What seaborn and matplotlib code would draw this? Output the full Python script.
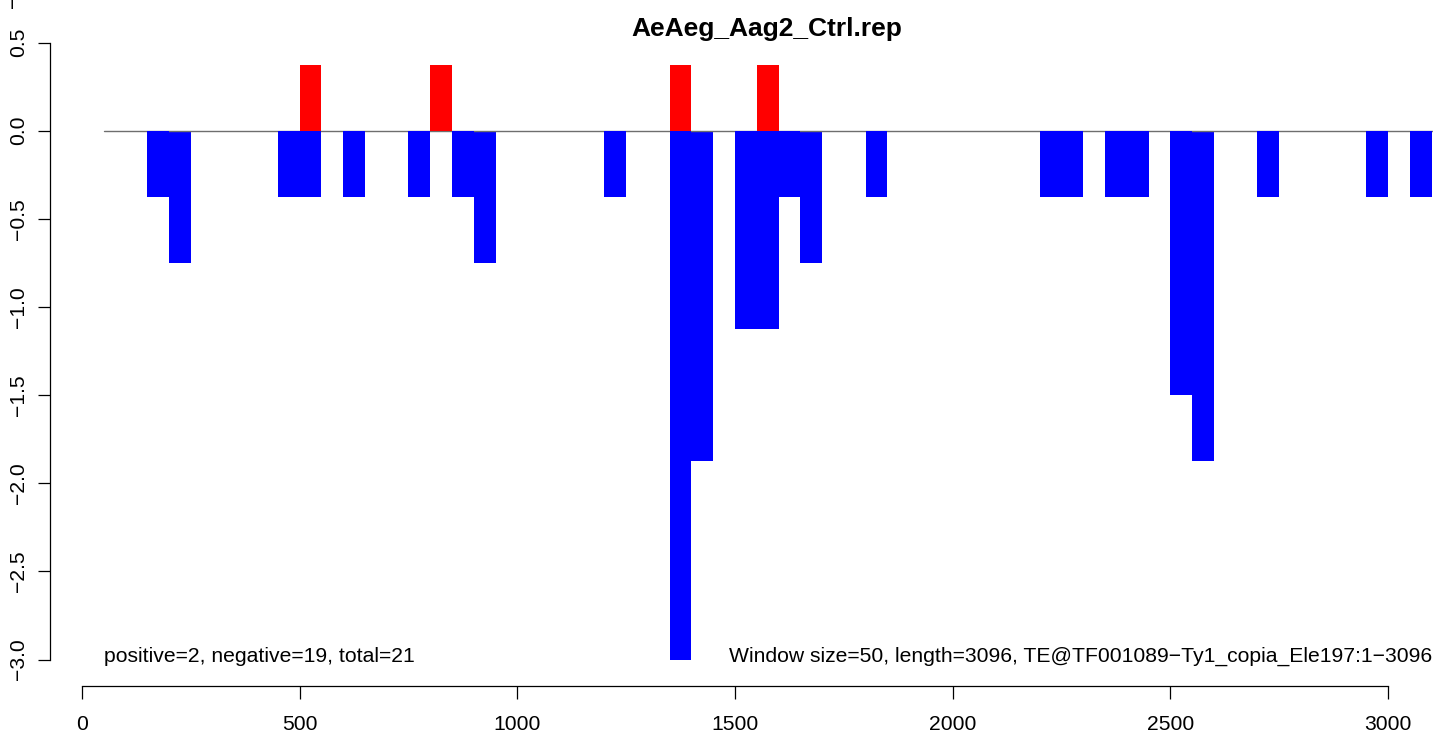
import numpy as np
import pandas as pd
import matplotlib
matplotlib.use("Agg")
import matplotlib.pyplot as plt
import seaborn as sns

# ---- data ----
title = "AeAeg_Aag2_Ctrl.rep"
window = 50
neg_starts = [150, 200, 450, 500, 600, 750, 850, 900, 1200, 1350, 1400, 1500, 1550,
              1600, 1650, 1800, 2200, 2250, 2350, 2400, 2500, 2550, 2700, 2950, 3050]
neg_values = [-0.375, -0.75, -0.375, -0.375, -0.375, -0.375, -0.375, -0.75, -0.375,
              -3.0, -1.875, -1.125, -1.125, -0.375, -0.75, -0.375, -0.375, -0.375,
              -0.375, -0.375, -1.5, -1.875, -0.375, -0.375, -0.375]
pos_starts = [500, 800, 1350, 1550]
pos_values = [0.375, 0.375, 0.375, 0.375]
under_line_starts = [200, 900, 1400, 1650, 2550]   # windows where baseline shows on top
baseline_range = [50, 3200]
x_ticks = [0, 500, 1000, 1500, 2000, 2500, 3000]
y_ticks = [0.5, 0.0, -0.5, -1.0, -1.5, -2.0, -2.5, -3.0]
left_note = "positive=2, negative=19, total=21"
right_note = "Window size=50, length=3096, TE@TF001089\u2212Ty1_copia_Ele197:1\u22123096"

df = pd.DataFrame({
    "center": np.array(neg_starts + pos_starts, dtype=float) + window / 2,
    "value": neg_values + pos_values,
    "sign": ["neg"] * len(neg_starts) + ["pos"] * len(pos_starts),
})

sns.set_style("ticks")
plt.rcParams["font.family"] = ["Liberation Sans", "DejaVu Sans"]
plt.rcParams["text.color"] = "black"
plt.rcParams["axes.labelcolor"] = "black"
FS = 15.2

W, H = 1433, 733
fig = plt.figure(figsize=(W / 100, H / 100), dpi=100)
ax_left, ax_bottom_px = 50, 685.7
ax = fig.add_axes([ax_left / W, (H - ax_bottom_px) / H, (W - ax_left) / W, ax_bottom_px / H])

sns.barplot(data=df, x="center", y="value", hue="sign",
            palette={"neg": "#0000FF", "pos": "#FF0000"},
            native_scale=True, dodge=False, width=1, saturation=1,
            errorbar=None, linewidth=0, legend=False, orient="x", ax=ax)

for p in ax.patches:
    start = p.get_x() + p.get_width() / 2 - window / 2
    if any(abs(start - s) < 1e-6 for s in under_line_starts):
        p.set_zorder(1.5)
    else:
        p.set_zorder(3)

ax.plot(baseline_range, [0, 0], color="#6e6e6e", lw=1.0, zorder=2, clip_on=True)

ax.set_xlim(-73.5, 3103.4)
ax.set_ylim(-3.148, 0.7414)
ax.set_xlabel("")
ax.set_ylabel("")

for s in ["top", "right"]:
    ax.spines[s].set_visible(False)
ax.spines["left"].set_bounds(min(y_ticks), max(y_ticks))
ax.spines["bottom"].set_bounds(min(x_ticks), max(x_ticks))
for s in ["left", "bottom"]:
    ax.spines[s].set_linewidth(0.9)
    ax.spines[s].set_color("black")

ax.set_xticks(x_ticks)
ax.set_xticklabels([str(t) for t in x_ticks], fontsize=FS, color="black")
ax.set_yticks(y_ticks)
ax.set_yticklabels([f"{t:.1f}".replace("-", "\u2212") for t in y_ticks],
                   fontsize=FS, rotation=90, va="center", color="black")
ax.tick_params(axis="x", direction="out", length=9, width=0.9, pad=12, colors="black")
ax.tick_params(axis="y", direction="out", length=9, width=0.9, pad=7, colors="black")

fig.text(767 / W, 1 - 36 / H, title, ha="center", va="baseline",
         fontsize=19, fontweight="bold", color="black")
fig.text(104 / W, 1 - 662 / H, left_note, ha="left", va="baseline", fontsize=FS, color="black")
fig.text(1432 / W, 1 - 662 / H, right_note, ha="right", va="baseline", fontsize=FS, color="black")
fig.text(14 / W, 1 - 2 / H, "\u2212", rotation=90, ha="center", va="center", fontsize=FS, color="black")

fig.savefig("out.png", dpi=100)
